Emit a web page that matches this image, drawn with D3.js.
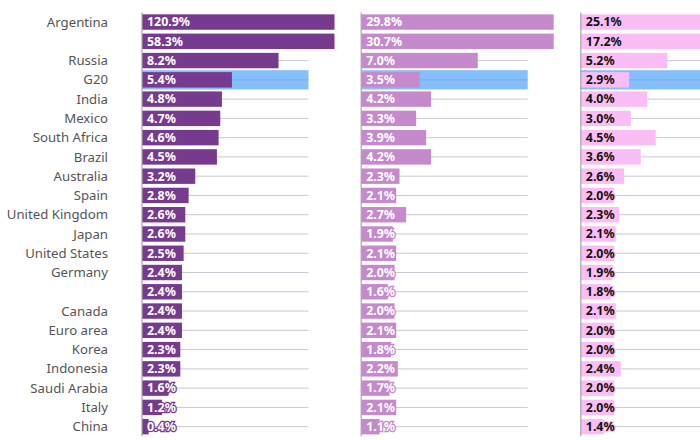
<!DOCTYPE html>
<html>
<head>
<meta charset="utf-8">
<script src="https://cdn.jsdelivr.net/npm/d3@7"></script>
<style>
html, body { margin: 0; padding: 0; background: #fff; }
svg { display: block; }
text { font-family: "Noto Sans", "Open Sans", sans-serif; }
</style>
</head>
<body>
<div id="plot"></div>
<script>
// two rows have no label in the picture
const categories = ["Argentina", "", "Russia", "G20", "India", "Mexico", "South Africa", "Brazil", "Australia", "Spain", "United Kingdom", "Japan", "United States", "Germany", "", "Canada", "Euro area", "Korea", "Indonesia", "Saudi Arabia", "Italy", "China"];
const col1 = [120.9, 58.3, 8.2, 5.4, 4.8, 4.7, 4.6, 4.5, 3.2, 2.8, 2.6, 2.6, 2.5, 2.4, 2.4, 2.4, 2.4, 2.3, 2.3, 1.6, 1.2, 0.4];
const col2 = [29.8, 30.7, 7.0, 3.5, 4.2, 3.3, 3.9, 4.2, 2.3, 2.1, 2.7, 1.9, 2.1, 2.0, 1.6, 2.0, 2.1, 1.8, 2.2, 1.7, 2.1, 1.1];
const col3 = [25.1, 17.2, 5.2, 2.9, 4.0, 3.0, 4.5, 3.6, 2.6, 2.0, 2.3, 2.1, 2.0, 1.9, 1.8, 2.1, 2.0, 2.0, 2.4, 2.0, 2.0, 1.4];

const w = 700, h = 441;
const svg = d3.select("#plot").append("svg").attr("width", w).attr("height", h);

const y = d3.scaleBand()
    .domain(d3.range(categories.length))
    .range([12.4, 436.3])
    .paddingInner(0.2)
    .paddingOuter(0.1);
const x = d3.scaleLinear().domain([0, 10]).range([0, 166.5]);
const step = y.step();
const maxW = 192.5;

// labels on the left
svg.append("g").selectAll("text")
    .data(categories)
    .join("text")
    .attr("x", 108)
    .attr("y", (d, i) => y(i) + y.bandwidth() / 2)
    .attr("dy", "0.35em")
    .attr("text-anchor", "end")
    .attr("font-size", 13.2)
    .attr("fill", "#555")
    .text(d => d);

function panel(values, left, barColor, textColor, haloColor) {
    const g = svg.append("g").attr("transform", "translate(" + left + ",0)");

    g.selectAll("line.grid")
        .data(values)
        .join("line")
        .attr("class", "grid")
        .attr("x1", 0)
        .attr("x2", x(10))
        .attr("y1", (d, i) => y(i) + y.bandwidth() / 2)
        .attr("y2", (d, i) => y(i) + y.bandwidth() / 2)
        .attr("stroke", "#c8c9d2")
        .attr("stroke-width", 1);

    // G20 highlight
    g.append("rect")
        .attr("x", 0)
        .attr("width", x(10))
        .attr("y", y(3) - (step - y.bandwidth()) / 2)
        .attr("height", step)
        .attr("fill", "#85bffa");
    g.append("line")
        .attr("x1", 0)
        .attr("x2", x(10))
        .attr("y1", y(3) + y.bandwidth() / 2)
        .attr("y2", y(3) + y.bandwidth() / 2)
        .attr("stroke", "#74aeea");

    g.selectAll("rect.bar")
        .data(values)
        .join("rect")
        .attr("class", "bar")
        .attr("x", 0)
        .attr("y", (d, i) => y(i))
        .attr("width", d => Math.min(x(d), maxW))
        .attr("height", y.bandwidth())
        .attr("fill", barColor);

    g.append("line")
        .attr("x1", 0)
        .attr("x2", 0)
        .attr("y1", 12.4)
        .attr("y2", 436.3)
        .attr("stroke", "#a5a5ab")
        .attr("stroke-width", 1.2);

    g.selectAll("text")
        .data(values)
        .join("text")
        .attr("x", 5)
        .attr("y", (d, i) => y(i) + y.bandwidth() / 2)
        .attr("dy", "0.35em")
        .attr("font-size", 12.4)
        .attr("font-weight", 700)
        .attr("fill", textColor)
        .attr("stroke", haloColor)
        .attr("stroke-width", 2.6)
        .attr("paint-order", "stroke")
        .text(d => d.toFixed(1) + "%");
}

panel(col1, 142, "#763a8e", "#fff", "#763a8e");
panel(col2, 361.2, "#c58acb", "#fff", "#c58acb");
panel(col3, 580.8, "#fbbdf5", "#111", "#fbbdf5");
</script>
</body>
</html>
